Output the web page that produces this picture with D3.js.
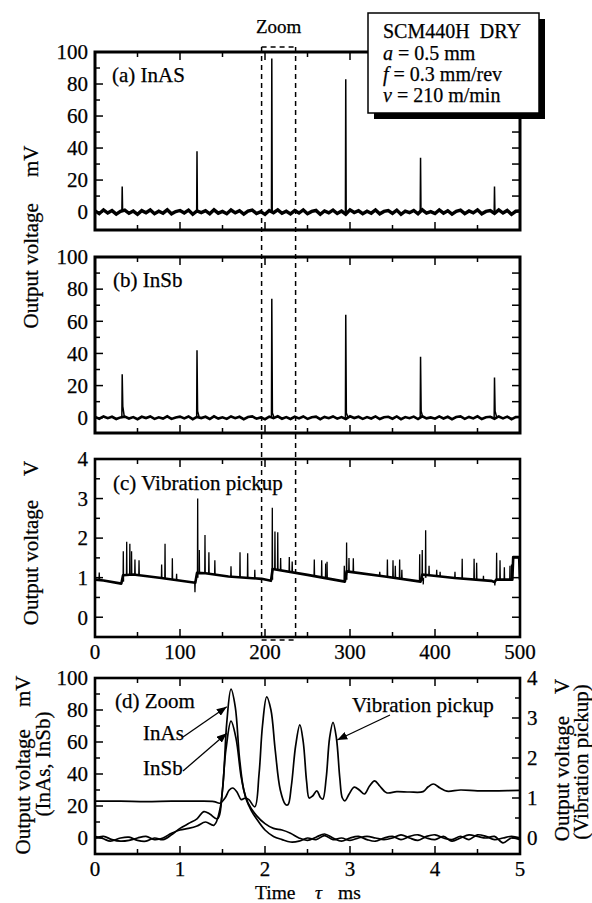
<!DOCTYPE html>
<html><head><meta charset="utf-8">
<script src="https://cdn.jsdelivr.net/npm/d3@7"></script>
<style>
body{margin:0;background:#fff}
text{font-family:"Liberation Serif","Times New Roman",Times,serif;fill:#000;stroke:#000;stroke-width:0.25px}
</style>
</head><body>
<svg id="chart" width="592" height="903"></svg>
<script>
// ---------------- DATA ----------------
const timeTicks = [0,100,200,300,400,500];
const zoomTicks = [0,1,2,3,4,5];
const mvTicks = [0,20,40,60,80,100];
const vTicks = [0,1,2,3,4];
const zoomWindow = [196,236];           // ms range marked "Zoom"
const noiseStep = 5;                    // ms between baseline samples (a, b)

// (a) InAs baseline noise, mV
const aNoise = [0.8,-1.0,1.4,-0.6,0.9,-1.3,0.4,1.2,-0.8,0.6,
-1.4,0.9,-0.4,1.3,-1.0,0.5,-0.7,1.4,-1.1,0.3,
1.0,-0.6,1.2,-1.4,0.7,-0.3,0.9,-1.1,1.4,-0.7,
0.4,-1.0,1.3,-0.5,0.8,-1.3,0.6,1.2,-0.9,0.3,
-1.4,1.0,-0.4,1.4,-0.8,0.5,-1.1,0.9,-0.6,1.3,
-1.0,0.4,1.0,-1.4,0.7,-0.5,1.2,-0.9,0.6,-1.3,
1.4,-0.3,0.8,-1.0,0.5,-0.7,1.3,-1.1,0.4,0.9,
-0.8,1.2,-1.4,0.6,-0.4,1.0,-1.1,1.4,-0.6,0.3,
-0.9,1.3,-0.7,0.8,-1.3,0.5,1.2,-1.0,0.7,-0.5,
1.4,-1.1,0.4,0.9,-0.8,1.3,-0.6,1.0,-1.4,0.5,0.7];
// (a) spikes [t ms, peak mV]
const aSpikes = [[32,16],[120,38],[208,96],[295,83],[383,34],[470,16]];

// (b) InSb baseline noise, mV
const bNoise = [0.5,-0.6,0.8,-0.3,0.6,-0.8,0.2,0.7,-0.5,0.4,
-0.9,0.6,-0.2,0.8,-0.7,0.3,-0.5,0.9,-0.7,0.2,
0.7,-0.4,0.8,-0.9,0.5,-0.2,0.6,-0.8,0.9,-0.5,
0.3,-0.7,0.8,-0.3,0.6,-0.9,0.4,0.8,-0.6,0.2,
-0.9,0.7,-0.3,0.9,-0.6,0.4,-0.8,0.6,-0.4,0.8,
-0.7,0.3,0.7,-0.9,0.5,-0.3,0.8,-0.6,0.4,-0.8,
0.9,-0.2,0.6,-0.7,0.4,-0.5,0.8,-0.8,0.3,0.6,
-0.6,0.8,-0.9,0.4,-0.3,0.7,-0.8,0.9,-0.4,0.2,
-0.6,0.8,-0.5,0.6,-0.9,0.4,0.8,-0.7,0.5,-0.4,
0.9,-0.8,0.3,0.6,-0.6,0.8,-0.4,0.7,-0.9,0.4,0.5];
// (b) spikes [t ms, peak mV, level just after spike mV]
const bSpikes = [[32,27,7],[120,42,4],[208,74,3],[295,64,3],[383,38,4],[470,25,4]];

// (c) vibration pickup baseline [t ms, V]
const cBase = [[0,0.95],[10,0.93],[31,0.85],[33,1.06],[45,1.08],[78,0.99],[118,0.87],[120,1.12],[130,1.11],[157,1.03],[196,0.97],[207,0.92],[209,1.22],[250,1.07],[294,0.9],[296,1.16],[341,1.03],[383,0.9],[385,1.08],[423,0.99],[466,0.92],[470,0.89],[472,0.95],[491,0.95],[492,1.52],[499,1.52],[500,0.95]];
// (c) spikes [t ms, base V, peak V]
const cSpikes = [[5,0.94,1.13],[33.3,0.9,1.67],[37.3,1.07,1.91],[41,1.07,1.86],[43,1.07,1.67],[47,1.08,1.46],[51.8,1.07,1.44],
[78.4,0.99,1.33],[82.4,0.98,1.86],[91,0.95,1.49],[96,0.94,1.1],
[117.6,0.87,0.63],[120.8,1.0,3.0],[122.7,1.1,1.7],[129.4,1.11,2.08],[134,1.1,1.64],[141,1.08,1.44],
[160,1.03,1.29],[170.6,1.0,1.64],[179.6,0.99,1.62],[188,0.98,1.2],
[208.6,0.95,2.77],[211.7,1.2,2.17],[215,1.2,2.15],[218.4,1.19,1.5],[228.6,1.15,1.52],[232,1.14,1.41],
[258,1.05,1.46],[266.7,1.02,1.44],[271.4,1.0,1.36],[273,1.0,1.4],
[293.3,0.9,1.3],[296,0.95,1.89],[298.8,1.16,1.5],[303.9,1.15,1.49],
[335,1.06,1.15],[344,1.03,1.46],[350.6,1.01,1.44],[353.3,1.0,1.3],[358.4,0.99,1.46],[361,0.98,1.2],
[382,0.9,1.59],[385,0.92,1.7],[386.2,1.0,0.83],[389,1.0,2.2],[393,1.06,1.3],[402,1.04,1.2],[406,1.03,1.15],
[423.5,0.99,1.15],[432,0.97,1.48],[446,0.94,1.48],[449,0.94,1.38],[457,0.93,1.05],
[470.4,0.89,0.8],[472.5,0.95,1.63],[476.5,0.95,1.44],[481.6,0.95,1.26],[488.2,0.95,1.3],[490,0.95,1.33]];

// (d) zoom, t in ms
const dVib = [[0,0.92],[0.3,0.92],[0.6,0.91],[0.9,0.92],[1.2,0.92],[1.4,0.91],[1.47,0.87],[1.53,1.0],[1.58,1.2],[1.62,1.25],[1.67,1.15],[1.72,0.96],[1.77,1.0],[1.81,0.96],[1.88,0.78],[1.93,1.6],[1.97,2.8],[2.02,3.53],[2.07,3.2],[2.12,2.2],[2.18,1.2],[2.24,0.84],[2.27,0.83],[2.31,1.3],[2.36,2.3],[2.41,2.83],[2.45,2.4],[2.49,1.4],[2.52,1.0],[2.56,1.05],[2.61,1.18],[2.65,1.02],[2.68,0.97],[2.72,1.5],[2.76,2.5],[2.8,2.89],[2.84,2.5],[2.88,1.5],[2.91,1.0],[2.94,0.93],[2.99,1.1],[3.05,1.27],[3.11,1.2],[3.17,1.1],[3.23,1.3],[3.29,1.43],[3.35,1.3],[3.43,1.13],[3.55,1.16],[3.7,1.15],[3.86,1.16],[3.92,1.28],[3.98,1.35],[4.06,1.25],[4.14,1.17],[4.3,1.2],[4.5,1.18],[4.75,1.18],[5,1.19]];
const dInAs = [[0,1],[0.1,-0.5],[0.18,-2],[0.3,0],[0.4,0.5],[0.5,-1.5],[0.6,-2],[0.7,0],[0.8,-1],[0.9,2],[1.0,6],[1.1,9],[1.2,12],[1.28,16.5],[1.35,15],[1.44,12],[1.5,30],[1.55,72],[1.6,93],[1.65,82],[1.7,50],[1.75,30],[1.8,22],[1.9,14],[2.0,9],[2.1,6],[2.2,5],[2.3,3],[2.4,0],[2.5,-1.5],[2.6,0.5],[2.7,2.5],[2.8,0],[2.9,-2],[3.0,0],[3.1,1],[3.2,-1],[3.3,-2],[3.4,0],[3.5,1],[3.6,-1],[3.7,1],[3.8,2],[3.9,0],[4.0,-1],[4.1,1],[4.2,-2],[4.3,0],[4.4,2],[4.5,1],[4.6,0],[4.7,1],[4.8,-3],[4.9,0],[5,-1]];
const dInSb = [[0,0],[0.1,1],[0.2,-1],[0.3,-2],[0.4,-1.5],[0.5,0],[0.6,1],[0.7,-1],[0.8,0],[0.9,3],[1.0,5],[1.1,6],[1.2,7.5],[1.3,10],[1.4,8],[1.47,18],[1.54,55],[1.6,73],[1.66,62],[1.72,38],[1.78,24],[1.84,17],[1.9,12],[2.0,5],[2.1,1],[2.2,-1],[2.3,-2.5],[2.4,-2],[2.5,0],[2.6,-1],[2.7,1.5],[2.8,-1],[2.9,0],[3.0,-1.5],[3.1,0],[3.2,1],[3.3,0],[3.4,-1],[3.5,0],[3.6,2],[3.7,0],[3.8,-1.5],[3.9,1],[4.0,2],[4.1,0],[4.2,-1],[4.3,1],[4.4,-1],[4.5,2],[4.6,1],[4.7,-1],[4.8,0],[4.9,1],[5,0]];

const legendLines = ["SCM440H  DRY","a = 0.5 mm","f = 0.3 mm/rev","v = 210 m/min"];

// ---------------- LAYOUT ----------------
const svg = d3.select("#chart");
const L = 95, R = 520;
const FS = 21;
const P = {
  a:{top:52,bottom:230,dom:[-11.2,100]},
  b:{top:257,bottom:433,dom:[-9.5,100]},
  c:{top:459,bottom:637,dom:[-0.5,4]},
  d:{top:678,bottom:854,dom:[-10,100]}
};
const xT = d3.scaleLinear([0,500],[L,R]);
const xZ = d3.scaleLinear([0,5],[L,R]);
for (const k in P) P[k].y = d3.scaleLinear(P[k].dom,[P[k].bottom,P[k].top]);
const yVr = d3.scaleLinear([-0.4,4],[P.d.bottom,P.d.top]);

const defs = svg.append("defs");
for (const k in P){
  defs.append("clipPath").attr("id","clip"+k).append("rect")
    .attr("x",L).attr("y",P[k].top).attr("width",R-L).attr("height",P[k].bottom-P[k].top);
}
defs.append("marker").attr("id","arr").attr("viewBox","0 0 10 8").attr("refX",10).attr("refY",4)
  .attr("markerWidth",10).attr("markerHeight",8).attr("markerUnits","userSpaceOnUse").attr("orient","auto")
  .append("path").attr("d","M0,0 L10,4 L0,8 Z").attr("fill","#000");

function tickLine(g,x1,y1,x2,y2,w){
  g.append("line").attr("x1",x1).attr("y1",y1).attr("x2",x2).attr("y2",y2)
   .attr("stroke","#000").attr("stroke-width",w||1.5);
}
function range(a,b,s){const r=[];for(let v=a;v<=b+1e-9;v+=s)r.push(+v.toFixed(4));return r;}

function frame(p, sw){
  svg.append("rect").attr("x",L).attr("y",p.top).attr("width",R-L).attr("height",p.bottom-p.top)
    .attr("fill","none").attr("stroke","#000").attr("stroke-width",sw);
}
function xTicks(p, xs, majorStep, minorStep, maxV){
  const g = svg.append("g");
  range(0,maxV,minorStep).forEach(v=>{
    const isMaj = Math.abs(v/majorStep-Math.round(v/majorStep))<1e-6;
    const len = isMaj?8:5;
    if (v===0||v===maxV) return;
    tickLine(g,xs(v),p.top,xs(v),p.top+len);
    tickLine(g,xs(v),p.bottom,xs(v),p.bottom-len);
  });
}
function yTicksLeft(p, ys, vals, majorStep){
  const g = svg.append("g");
  vals.forEach(v=>{
    const isMaj = Math.abs(v/majorStep-Math.round(v/majorStep))<1e-6;
    tickLine(g,L,ys(v),L+(isMaj?8:5),ys(v));
  });
}
function yTicksRight(p, ys, vals, majorStep){
  const g = svg.append("g");
  vals.forEach(v=>{
    const isMaj = majorStep? Math.abs(v/majorStep-Math.round(v/majorStep))<1e-6 : true;
    tickLine(g,R,ys(v),R-(isMaj?8:5),ys(v));
  });
}
function yLabels(ys, vals, x, anchor){
  svg.append("g").selectAll("text").data(vals).join("text")
    .attr("x",x).attr("y",d=>ys(d)).attr("dy","0.35em").attr("text-anchor",anchor)
    .attr("font-size",FS).text(d=>d);
}
function xLabels(xs, vals, y){
  svg.append("g").selectAll("text").data(vals).join("text")
    .attr("x",d=>xs(d)).attr("y",y).attr("text-anchor","middle").attr("font-size",FS).text(d=>d);
}

// ---------------- PANEL (a) ----------------
{
  const p=P.a, y=p.y, g=svg.append("g").attr("clip-path","url(#clipa)");
  g.append("path").datum(aNoise).attr("fill","none").attr("stroke","#000").attr("stroke-width",3.4)
    .attr("stroke-linejoin","miter")
    .attr("d",d3.line().x((d,i)=>xT(i*noiseStep)).y(d=>y(d)));
  g.selectAll(".sp").data(aSpikes).join("path").attr("fill","none").attr("stroke","#000").attr("stroke-width",1.5)
    .attr("d",d=>d3.line()([[xT(d[0]-0.4),y(0)],[xT(d[0]),y(d[1])],[xT(d[0]+0.5),y(0)]]));
  yTicksLeft(p,y,range(0,90,10),20);
  yTicksRight(p,y,range(10,90,10));
  xTicks(p,xT,100,50,500);
  yLabels(y,mvTicks,88,"end");
  frame(p,3);
  svg.append("text").attr("x",112).attr("y",82).attr("font-size",FS).text("(a) InAS");
}
// ---------------- PANEL (b) ----------------
{
  const p=P.b, y=p.y, g=svg.append("g").attr("clip-path","url(#clipb)");
  g.append("path").datum(bNoise).attr("fill","none").attr("stroke","#000").attr("stroke-width",2.6)
    .attr("stroke-linejoin","miter")
    .attr("d",d3.line().x((d,i)=>xT(i*noiseStep)).y(d=>y(d)));
  g.selectAll(".sp").data(bSpikes).join("path").attr("fill","none").attr("stroke","#000").attr("stroke-width",1.5)
    .attr("d",d=>d3.line()([[xT(d[0]-0.4),y(0)],[xT(d[0]),y(d[1])],[xT(d[0]+0.7),y(d[2])],[xT(d[0]+2.5),y(0.5)]]));
  yTicksLeft(p,y,range(0,90,10),20);
  yTicksRight(p,y,range(10,90,10));
  xTicks(p,xT,100,50,500);
  yLabels(y,mvTicks,88,"end");
  frame(p,3);
  svg.append("text").attr("x",113).attr("y",287).attr("font-size",FS).text("(b) InSb");
}
// ---------------- PANEL (c) ----------------
{
  const p=P.c, y=p.y, g=svg.append("g").attr("clip-path","url(#clipc)");
  g.append("path").datum(cBase).attr("fill","none").attr("stroke","#000").attr("stroke-width",2.6)
    .attr("stroke-linejoin","round")
    .attr("d",d3.line().x(d=>xT(d[0])).y(d=>y(d[1])));
  g.selectAll(".sp").data(cSpikes).join("path").attr("fill","none").attr("stroke","#000").attr("stroke-width",1.3)
    .attr("d",d=>d3.line()([[xT(d[0]-0.3),y(d[1])],[xT(d[0]),y(d[2])],[xT(d[0]+0.3),y(d[1])]]));
  yTicksLeft(p,y,range(0,3.5,0.5),1);
  yTicksRight(p,y,range(0,3.5,0.5));
  xTicks(p,xT,100,50,500);
  yLabels(y,vTicks,88,"end");
  xLabels(xT,timeTicks,p.bottom+22);
  frame(p,2.6);
  svg.append("text").attr("x",113).attr("y",490).attr("font-size",FS).text("(c) Vibration pickup");
}
// ---------------- PANEL (d) ----------------
{
  const p=P.d, y=p.y, g=svg.append("g").attr("clip-path","url(#clipd)");
  const crv = d3.curveCatmullRom.alpha(0.5);
  g.append("path").datum(dVib).attr("fill","none").attr("stroke","#000").attr("stroke-width",1.7)
    .attr("d",d3.line().curve(crv).x(d=>xZ(d[0])).y(d=>yVr(d[1])));
  g.append("path").datum(dInAs).attr("fill","none").attr("stroke","#000").attr("stroke-width",1.7)
    .attr("d",d3.line().curve(crv).x(d=>xZ(d[0])).y(d=>y(d[1])));
  g.append("path").datum(dInSb).attr("fill","none").attr("stroke","#000").attr("stroke-width",1.7)
    .attr("d",d3.line().curve(crv).x(d=>xZ(d[0])).y(d=>y(d[1])));
  yTicksLeft(p,y,range(0,90,10),20);
  yTicksRight(p,yVr,range(0,3.5,0.5),1);
  xTicks(p,xZ,1,0.5,5);
  yLabels(y,mvTicks,88,"end");
  yLabels(yVr,vTicks,527,"start");
  xLabels(xZ,zoomTicks,p.bottom+22);
  frame(p,2.6);
  svg.append("text").attr("x",115).attr("y",708).attr("font-size",FS).text("(d) Zoom");
  svg.append("text").attr("x",143).attr("y",740).attr("font-size",FS).text("InAs");
  svg.append("text").attr("x",143).attr("y",775).attr("font-size",FS).text("InSb");
  svg.append("text").attr("x",352).attr("y",712).attr("font-size",FS).text("Vibration pickup");
  const arrow=(x1,y1,x2,y2)=>svg.append("line").attr("x1",x1).attr("y1",y1).attr("x2",x2).attr("y2",y2)
    .attr("stroke","#000").attr("stroke-width",1.3).attr("marker-end","url(#arr)");
  arrow(183,737,xZ(1.55),y(82));
  arrow(183,771,xZ(1.55),y(65.5));
  arrow(390,715,xZ(2.85),yVr(2.45));
}

// ---------------- AXIS TITLES ----------------
function vTitle(x,yc,main,unit,gap){
  const t=svg.append("text").attr("transform",`translate(${x},${yc}) rotate(-90)`)
    .attr("text-anchor","middle").attr("font-size",FS);
  t.append("tspan").text(main);
  if(unit) t.append("tspan").attr("dx",gap).text(unit);
}
vTitle(38,237,"Output voltage","mV",26);
vTitle(38,543,"Output voltage","V",24);
vTitle(30,765,"Output voltage","mV",22);
vTitle(50,764,"(InAs, InSb)");
vTitle(569,760,"Output voltage","V",22);
vTitle(588,762,"(Vibration pickup)");
{
  const t=svg.append("text").attr("x",255).attr("y",899).attr("font-size",19.5);
  t.append("tspan").text("Time");
  t.append("tspan").attr("x",315).attr("font-style","italic").text("τ");
  t.append("tspan").attr("x",338).text("ms");
}

// ---------------- ZOOM BOX ----------------
{
  const x1=xT(zoomWindow[0]), x2=xT(zoomWindow[1]), yTop=47, yBot=640;
  const g=svg.append("g").attr("fill","none").attr("stroke","#000").attr("stroke-width",1.5).attr("stroke-dasharray","5,4");
  g.append("line").attr("x1",x1).attr("x2",x1).attr("y1",yTop).attr("y2",yBot);
  g.append("line").attr("x1",x2).attr("x2",x2).attr("y1",yTop).attr("y2",yBot);
  g.append("line").attr("x1",x1).attr("x2",x2).attr("y1",yTop).attr("y2",yTop);
  g.append("line").attr("x1",x1).attr("x2",x2).attr("y1",yBot).attr("y2",yBot);
  svg.append("text").attr("x",(x1+x2)/2).attr("y",33).attr("text-anchor","middle").attr("font-size",19).text("Zoom");
}

// ---------------- LEGEND BOX ----------------
{
  const bx=368, by=13, bw=171, bh=100;
  svg.append("rect").attr("x",bx+6).attr("y",by+6).attr("width",bw).attr("height",bh).attr("fill","#000");
  svg.append("rect").attr("x",bx).attr("y",by).attr("width",bw).attr("height",bh).attr("fill","#fff")
    .attr("stroke","#000").attr("stroke-width",1.5);
  const ys=[38,60,81,102];
  const g=svg.append("g").attr("font-size",20);
  const t0=g.append("text").attr("x",383).attr("y",ys[0]);
  t0.append("tspan").text("SCM440H");
  t0.append("tspan").attr("dx",10).text("DRY");
  legendLines.slice(1).forEach((s,i)=>{
    const t=g.append("text").attr("x",383).attr("y",ys[i+1]);
    t.append("tspan").attr("font-style","italic").text(s.charAt(0));
    t.append("tspan").text(s.slice(1));
  });
}
</script>
</body></html>
